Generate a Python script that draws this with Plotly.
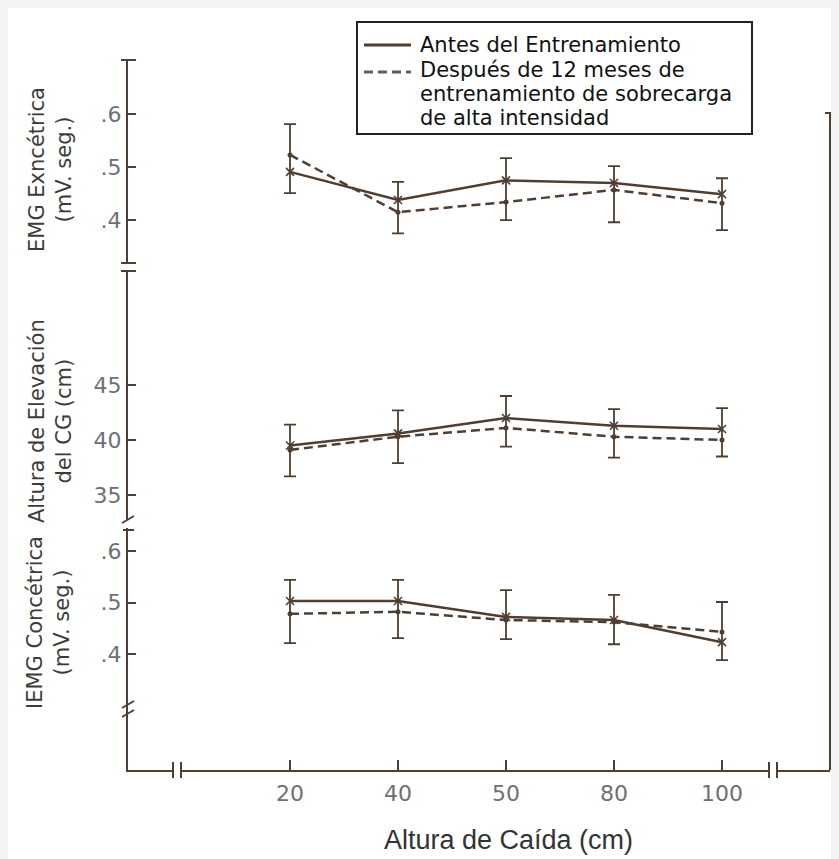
import plotly.graph_objects as go

# ---------------- data ----------------
drop_heights = ["20", "40", "50", "80", "100"]

# Top panel: EMG Excéntrica (mV. seg.)
emg_exc_before = [0.491, 0.438, 0.475, 0.470, 0.449]
emg_exc_after = [0.523, 0.415, 0.434, 0.457, 0.432]
emg_exc_hi = [0.581, 0.472, 0.517, 0.502, 0.479]
emg_exc_lo = [0.451, 0.375, 0.400, 0.396, 0.381]

# Middle panel: Altura de Elevación del CG (cm)
cg_before = [39.5, 40.6, 42.0, 41.3, 41.0]
cg_after = [39.1, 40.3, 41.1, 40.3, 40.0]
cg_hi = [41.4, 42.7, 44.0, 42.8, 42.9]
cg_lo = [36.7, 37.9, 39.4, 38.4, 38.5]

# Bottom panel: IEMG Concéntrica (mV. seg.)
iemg_con_before = [0.503, 0.503, 0.472, 0.466, 0.423]
iemg_con_after = [0.478, 0.482, 0.466, 0.462, 0.443]
iemg_con_hi = [0.544, 0.544, 0.524, 0.515, 0.501]
iemg_con_lo = [0.421, 0.431, 0.429, 0.419, 0.388]

emg_ticks = [0.4, 0.5, 0.6]
emg_ticktext = [".4", ".5", ".6"]
cg_ticks = [35, 40, 45]
cg_ticktext = ["35", "40", "45"]

legend_before = ["Antes del Entrenamiento"]
legend_after = ["Después de 12 meses de", "entrenamiento de sobrecarga", "de alta intensidad"]
x_title = "Altura de Caída (cm)"

# ---------------- style / layout constants ----------------
# The page body adds an 8px offset; the figure fills the remaining window.
OFF = 8
W, H = 839 - OFF, 859 - OFF
ML, MR, MT, MB = 128 - OFF, 9, 60 - OFF, 89
PW, PH = W - ML - MR, H - MT - MB
INK = "#4f3e31"
TICKC = "#707070"
LEG_FONT = dict(family="DejaVu Sans", size=21, color="#111")


def px_x(sx):
    # screen px -> paper x
    return (sx - OFF - ML) / PW


def px_y(sy):
    # screen px -> paper y
    return (H - MB - (sy - OFF)) / PH


fig = go.Figure()

panels = [
    ("y3", emg_exc_before, emg_exc_after, emg_exc_hi, emg_exc_lo),
    ("y2", cg_before, cg_after, cg_hi, cg_lo),
    ("y", iemg_con_before, iemg_con_after, iemg_con_hi, iemg_con_lo),
]

for yref, before, after, hi, lo in panels:
    fig.add_trace(go.Scatter(
        x=drop_heights, y=after, yaxis=yref, xaxis="x",
        mode="lines+markers", showlegend=False,
        line=dict(color=INK, width=2.5, dash="9px,5px"),
        marker=dict(symbol="circle", size=5, color=INK),
    ))
    fig.add_trace(go.Scatter(
        x=drop_heights, y=before, yaxis=yref, xaxis="x",
        mode="lines+markers", showlegend=False,
        line=dict(color=INK, width=2.5),
        marker=dict(symbol="x-thin", size=8, line=dict(color=INK, width=1.6)),
        error_y=dict(
            type="data", symmetric=False,
            array=[h - b for h, b in zip(hi, before)],
            arrayminus=[b - l for b, l in zip(before, lo)],
            color=INK, thickness=1.8, width=6,
        ),
    ))

axis_common = dict(
    showline=True, linecolor=INK, linewidth=2,
    ticks="inside", ticklen=8, tickwidth=2, tickcolor=INK,
    showgrid=False, zeroline=False,
    tickfont=dict(family="DejaVu Sans", size=22, color=TICKC),
    anchor="x",
)

fig.update_layout(
    width=W, height=H,
    margin=dict(l=ML, r=MR, t=MT, b=MB, pad=0, autoexpand=False),
    paper_bgcolor="white",
    plot_bgcolor="rgba(0,0,0,0)",
    showlegend=False,
    xaxis=dict(
        type="category", range=[-1.5, 5.0],
        showline=True, linecolor=INK, linewidth=2,
        ticks="inside", ticklen=10, tickwidth=2, tickcolor=INK,
        showgrid=False, zeroline=False, anchor="y",
        tickfont=dict(family="DejaVu Sans", size=22, color=TICKC),
        ticklabelstandoff=3,
    ),
    yaxis=dict(domain=[0, px_y(528)], range=[0.1748, 0.6447],
               tickvals=emg_ticks, ticktext=emg_ticktext, **axis_common),
    yaxis2=dict(domain=[px_y(520), px_y(272)], range=[32.73, 55.27],
                tickvals=cg_ticks, ticktext=cg_ticktext, **axis_common),
    yaxis3=dict(domain=[px_y(262), 1.0], range=[0.321, 0.702],
                tickvals=emg_ticks, ticktext=emg_ticktext, **axis_common),
)

shapes = []


def seg(x0, y0, x1, y1, w=2, color=INK, dash="solid"):
    shapes.append(dict(type="line", xref="paper", yref="paper",
                       x0=px_x(x0), y0=px_y(y0), x1=px_x(x1), y1=px_y(y1),
                       line=dict(color=color, width=w, dash=dash)))


# left axis caps and breaks
seg(121, 60, 136, 60)
seg(121, 263, 136, 263)
seg(121, 271, 136, 271)
seg(122, 523, 134, 516)
seg(123, 530, 134, 530)
seg(122, 708, 134, 701)
seg(122, 717, 134, 710)
# x-axis breaks
for xb in (177, 773):
    shapes.append(dict(type="rect", xref="paper", yref="paper",
                       x0=px_x(xb - 3), x1=px_x(xb + 3), y0=px_y(773), y1=px_y(767),
                       fillcolor="white", line=dict(width=0)))
    seg(xb - 4, 762, xb - 4, 778)
    seg(xb + 4, 762, xb + 4, 778)
# right-hand frame line
seg(830, 113, 830, 770)
seg(825, 113, 835, 113)

# legend box and samples
shapes.append(dict(type="rect", xref="paper", yref="paper",
                   x0=px_x(357), x1=px_x(752), y0=px_y(22), y1=px_y(134),
                   fillcolor="white", line=dict(color="#222", width=2)))
seg(364, 45, 411, 45, w=3, color=INK)
seg(364, 72, 411, 72, w=3, color="#5e5e5e", dash="9px,5px")
fig.update_layout(shapes=shapes)

legend_lines = legend_before + legend_after
legend_y = [45, 70, 94, 118]
for txt, ly in zip(legend_lines, legend_y):
    fig.add_annotation(text=txt, xref="paper", yref="paper",
                       x=px_x(418), y=px_y(ly), xanchor="left", yanchor="middle",
                       showarrow=False, font=LEG_FONT)

# rotated y titles
titles = [
    ("EMG Exncétrica<br>(mV. seg.)", 50, 170),
    ("Altura de Elevación<br>del CG (cm)", 50, 421),
    ("IEMG Concétrica<br>(mV. seg.)", 48, 623),
]
for txt, cx, cy in titles:
    fig.add_annotation(text=txt, xref="paper", yref="paper",
                       x=px_x(cx), y=px_y(cy), xanchor="center", yanchor="middle",
                       textangle=-90, showarrow=False,
                       font=dict(family="DejaVu Sans", size=21, color="#3c3c3c"))

# x title
fig.add_annotation(text=x_title, xref="paper", yref="paper",
                   x=px_x(508), y=px_y(840), xanchor="center", yanchor="middle",
                   showarrow=False,
                   font=dict(family="Liberation Sans", size=27, color="#333"))

fig.write_html(
    "out.html",
    post_script="document.body.style.background='#f3f3f3';",
)
